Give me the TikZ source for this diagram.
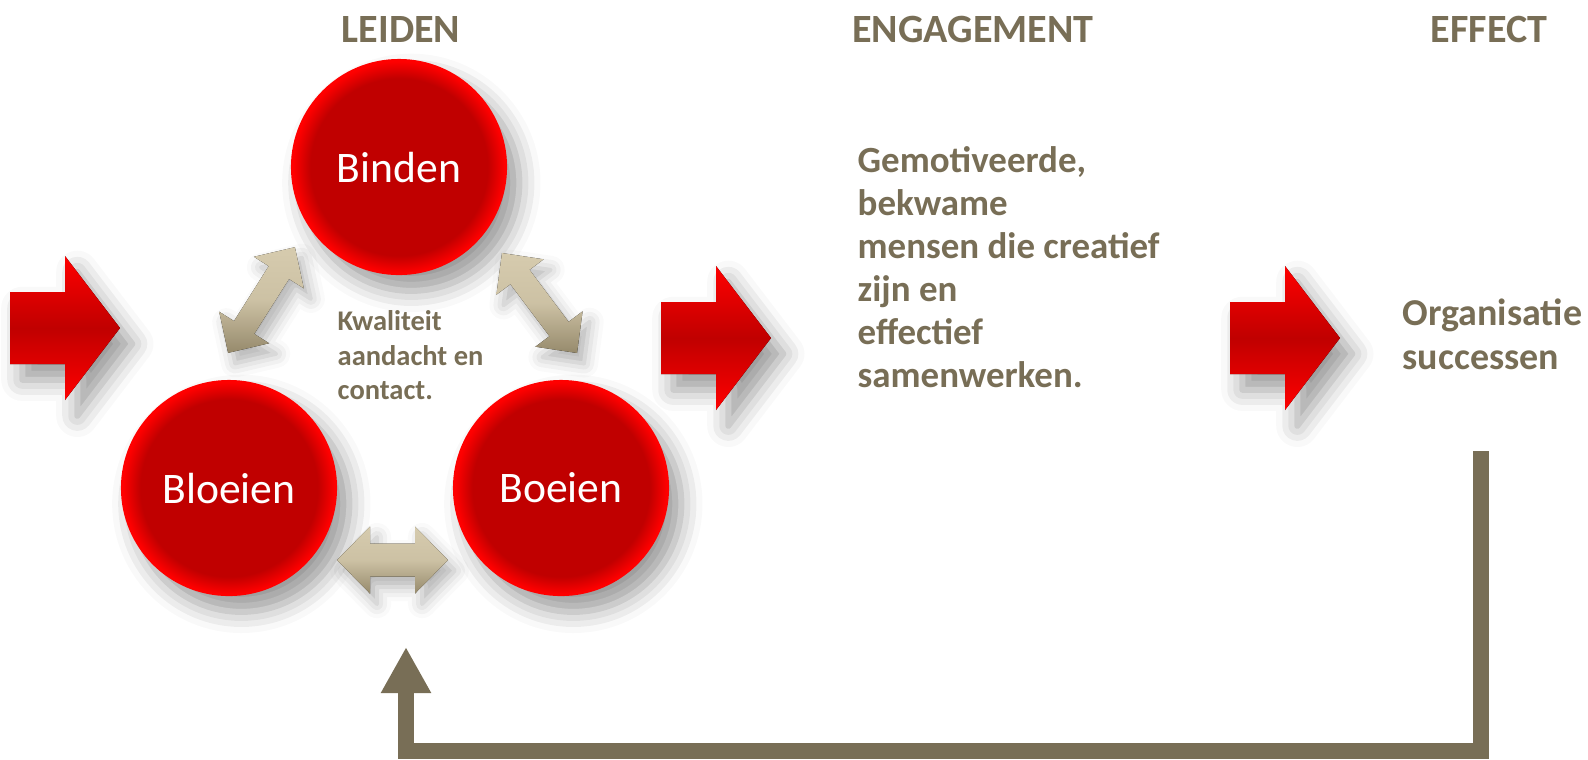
\documentclass[tikz,border=0pt]{standalone}
\usepackage{fontspec}
\setmainfont{Carlito}
\usepackage{tikz}
\usetikzlibrary{arrows.meta,shadows.blur}

\definecolor{earth}{RGB}{120,110,86}
\definecolor{deepred}{RGB}{192,0,0}
\definecolor{sand}{RGB}{214,203,174}
\definecolor{sanddark}{RGB}{150,138,108}
\pgfdeclareradialshading{redball}{\pgfpoint{0bp}{0bp}}{color(0bp)=(deepred); color(20.5bp)=(deepred); color(24.5bp)=(red); color(50bp)=(red)}

\begin{document}
\begin{tikzpicture}[
    x=0.01cm, y=-0.01cm,
    softshadow/.style={blur shadow={shadow xshift=3.5pt, shadow yshift=-4.5pt, shadow blur radius=6pt, shadow opacity=40}},
    ball/.style={circle, minimum size=2.16cm, inner sep=0pt, shading=redball, softshadow,
        text=white, font=\fontsize{12.4pt}{14pt}\selectfont},
    title/.style={anchor=base, text=earth, font=\bfseries\fontsize{11.4pt}{13pt}\selectfont},
    remark/.style={anchor=north west, inner sep=0pt, align=left, text=earth},
    redface/.style={top color=red, bottom color=red, middle color=deepred, softshadow},
    sandface/.style={top color=sand, bottom color=sanddark, middle color=sand!85!sanddark,
        blur shadow={shadow xshift=2pt, shadow yshift=-3pt, shadow blur radius=4pt, shadow opacity=30}},
    feedback/.style={draw=earth, line width=0.16cm, -{Triangle[width=0.47cm,length=0.46cm]}},
    pics/bigarrow/.style={code={
        \fill[redface] (0,-36) -- (55,-36) -- (55,-72) -- (110,0) -- (55,72) -- (55,36) -- (0,36) -- cycle;
    }},
    pics/twinarrow/.style n args={4}{code={
        \fill[sandface] (-#1,0) -- (-#1+#3,-#2) -- (-#1+#3,-#4) -- (#1-#3,-#4) -- (#1-#3,-#2) -- (#1,0)
            -- (#1-#3,#2) -- (#1-#3,#4) -- (-#1+#3,#4) -- (-#1+#3,#2) -- cycle;
    }}
]
    \useasboundingbox (0,0) rectangle (1588,759);

    % headings
    \node[title] (leiden) at (401,42.5) {LEIDEN};
    \node[title] (engagement) at (973,42.5) {ENGAGEMENT};
    \node[title] (effect) at (1489,42.5) {EFFECT};

    % the three circles
    \node[ball] (binden) at (399,167) {Binden};
    \node[ball] (bloeien) at (229,488) {Bloeien};
    \node[ball] (boeien) at (561,488) {Boeien};

    \pic[rotate=57.7] at (261.5,300) {twinarrow={62.5}{29.5}{30}{12}};
    \pic[rotate=-53.1] at (539.5,303) {twinarrow={62.5}{29.5}{30}{12}};
    \pic at (392.5,560) {twinarrow={55.5}{33.5}{33}{16.5}};

    \node[remark, font=\bfseries\fontsize{8.1pt}{9.8pt}\selectfont] (kwaliteit) at (337,310)
        {Kwaliteit\\aandacht en\\contact.};

    % red block arrows
    \pic at (10,328) {bigarrow};
    \pic at (661,338) {bigarrow};
    \pic at (1230,338) {bigarrow};

    \node[anchor=base east, text=earth, font=\bfseries\fontsize{10.5pt}{12pt}\selectfont] (cut) at (14,426) {al};

    \node[remark, font=\bfseries\fontsize{10.5pt}{12.2pt}\selectfont] (mensen) at (857,146)
        {Gemotiveerde,\\bekwame\\mensen die creatief\\zijn en\\effectief\\samenwerken.};
    \node[remark, font=\bfseries\fontsize{10.8pt}{12.5pt}\selectfont] (succes) at (1402,298)
        {Organisatie\\successen};

    % feedback loop
    \coordinate (fbtop) at (1481,451);
    \coordinate (fbbase) at (0,751);
    \coordinate (fbend) at (406,647);
    \draw[feedback] (fbtop) -- (fbtop |- fbbase) -- (fbend |- fbbase) -- (fbend);
\end{tikzpicture}
\end{document}
